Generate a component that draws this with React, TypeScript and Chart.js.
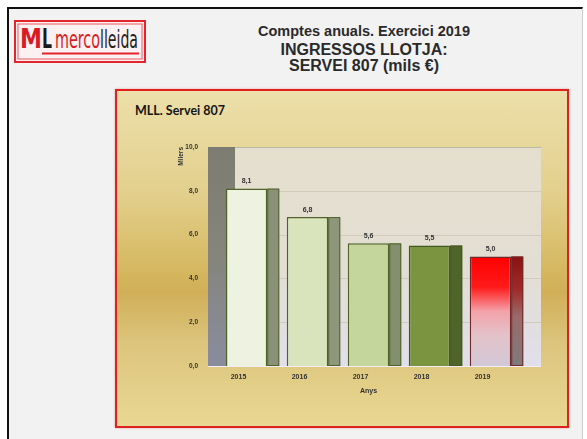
import React, { useEffect, useRef } from 'react';
import { Chart, registerables } from 'chart.js';

Chart.register(...registerables);

// ---- data ----
const years = ['2015', '2016', '2017', '2018', '2019'];
const incomes = [8.1, 6.8, 5.6, 5.5, 5.0];
const yTickValues = [0, 2, 4, 6, 8, 10];
const titleLines = ['Comptes anuals. Exercici 2019', 'INGRESSOS LLOTJA:', 'SERVEI 807 (mils €)'];
const panelTitle = 'MLL. Servei 807';
const yAxisTitle = 'Milers';
const xAxisTitle = 'Anys';

// ---- styles ----
const frontColors = ['#eef2e0', '#d9e4bd', '#c4d69c', '#7a9440', '#ff0000'];
const sideColors = ['#8b9179', '#8e977c', '#829070', '#4e6429', '#8b1111'];
const edgeColors = ['#4f6228', '#4f6228', '#4f6228', '#435722', '#6e2a2a'];
const highlightIndex = 4;
const FONT = '"Liberation Sans", Arial, sans-serif';

const fmt = (v: number) => v.toFixed(1).replace('.', ',');

const plot3d = {
  id: 'plot3d',
  beforeDraw(chart: any) {
    const { ctx, chartArea: a, scales } = chart;
    const y = scales.y;
    const top = y.getPixelForValue(10);
    const bottom = y.getPixelForValue(0);
    const left = a.left - 8;
    const right = a.right + 20;
    ctx.save();
    const g = ctx.createLinearGradient(0, top, 0, bottom);
    g.addColorStop(0, '#e4dfcd');
    g.addColorStop(0.55, '#e3ded3');
    g.addColorStop(1, '#e1dfea');
    ctx.fillStyle = g;
    ctx.fillRect(left, top, right - left, bottom - top);
    ctx.lineWidth = 1;
    for (const v of yTickValues) {
      if (v === 0) continue;
      const py = Math.round(y.getPixelForValue(v)) + 0.5;
      ctx.strokeStyle = v === 10 ? '#bdb8a6' : '#d0cbbb';
      ctx.beginPath();
      ctx.moveTo(left, py);
      ctx.lineTo(right, py);
      ctx.stroke();
    }
    ctx.strokeStyle = '#f1eff5';
    const pb = Math.round(bottom) + 0.5;
    ctx.beginPath();
    ctx.moveTo(left, pb);
    ctx.lineTo(right, pb);
    ctx.stroke();
    ctx.restore();
  },
  beforeDatasetsDraw(chart: any) {
    const { ctx, chartArea: a, scales } = chart;
    const y = scales.y;
    const top = y.getPixelForValue(10);
    const bottom = y.getPixelForValue(0);
    const left = a.left - 8;
    ctx.save();
    const g = ctx.createLinearGradient(0, top, 0, bottom);
    g.addColorStop(0, '#7c7c72');
    g.addColorStop(0.5, '#85857c');
    g.addColorStop(1, '#8a8c9e');
    ctx.fillStyle = g;
    ctx.fillRect(left, top, 27, bottom - top);
    ctx.restore();
  },
  afterDatasetsDraw(chart: any) {
    const { ctx } = chart;
    const meta = chart.getDatasetMeta(0);
    ctx.save();
    meta.data.forEach((bar: any, i: number) => {
      const { x, y, base, width } = bar.getProps(['x', 'y', 'base', 'width'], true);
      const sx = x + width / 2;
      const sw = 12;
      if (i === highlightIndex) {
        const g = ctx.createLinearGradient(0, y, 0, base);
        g.addColorStop(0, '#8b1111');
        g.addColorStop(0.3, '#a02a2a');
        g.addColorStop(0.55, '#9a6a6a');
        g.addColorStop(1, '#7d7a7c');
        ctx.fillStyle = g;
      } else {
        ctx.fillStyle = sideColors[i];
      }
      ctx.fillRect(sx, y, sw, base - y);
      ctx.strokeStyle = edgeColors[i];
      ctx.lineWidth = 1;
      ctx.strokeRect(sx + 0.5, y + 0.5, sw - 1, base - y - 1);
      // value label
      ctx.fillStyle = '#333';
      ctx.font = `bold 7px ${FONT}`;
      ctx.textAlign = 'center';
      ctx.textBaseline = 'bottom';
      ctx.fillText(fmt(incomes[i]), x, y - 4);
    });
    ctx.restore();
  },
};

export default function App() {
  const ref = useRef<HTMLCanvasElement>(null);

  useEffect(() => {
    const canvas = ref.current;
    if (!canvas) return;
    const chart = new Chart(canvas, {
      type: 'bar',
      data: {
        labels: years,
        datasets: [
          {
            data: incomes,
            backgroundColor: (c: any) => {
              const i = c.dataIndex;
              if (i !== highlightIndex) return frontColors[i];
              const ch = c.chart;
              if (!ch.chartArea || !ch.scales.y) return frontColors[i];
              const top = ch.scales.y.getPixelForValue(incomes[i]);
              const bot = ch.scales.y.getPixelForValue(0);
              const g = ch.ctx.createLinearGradient(0, top, 0, bot);
              g.addColorStop(0, '#ff0000');
              g.addColorStop(0.28, '#ff1a1a');
              g.addColorStop(0.5, '#f4a2aa');
              g.addColorStop(0.72, '#e3c2c9');
              g.addColorStop(1, '#d3c9d8');
              return g;
            },
            borderColor: edgeColors,
            borderWidth: 1.5,
            barPercentage: 0.68,
            categoryPercentage: 1,
          },
        ],
      },
      options: {
        animation: false,
        responsive: false,
        maintainAspectRatio: false,
        layout: { padding: { top: 56, right: 46, bottom: 20, left: 0 } },
        plugins: {
          legend: { display: false },
          tooltip: { enabled: false },
        },
        scales: {
          x: {
            grid: { display: false, drawTicks: false },
            border: { display: false },
            ticks: {
              color: '#333',
              font: { family: FONT, size: 7, weight: 'bold' },
              padding: 7,
              labelOffset: -8,
            },
            title: {
              display: true,
              text: xAxisTitle,
              color: '#333',
              font: { family: FONT, size: 7, weight: 'bold' },
              padding: { top: 0, bottom: 11 },
            },
            afterFit: (s: any) => {
              s.height = 40;
              s.paddingLeft = 0;
              s.paddingRight = 0;
            },
          },
          y: {
            min: 0,
            max: 10,
            grid: { display: false, drawTicks: false },
            border: { display: false },
            ticks: {
              stepSize: 2,
              color: '#333',
              font: { family: FONT, size: 6.5, weight: 'bold' },
              padding: 18,
              callback: (v: any) => fmt(Number(v)),
            },
            title: {
              display: true,
              text: yAxisTitle,
              align: 'end',
              color: '#333',
              font: { family: FONT, size: 6.5, weight: 'bold' },
              padding: { top: 60, bottom: 0 },
            },
            afterFit: (s: any) => {
              s.width = 99;
              s.paddingTop = 0;
              s.paddingBottom = 0;
            },
          },
        },
      } as any,
      plugins: [plot3d],
    });
    return () => chart.destroy();
  }, []);

  return (
    <div
      style={{
        position: 'absolute',
        left: 0,
        top: 0,
        width: 587,
        height: 439,
        background: '#ffffff',
        overflow: 'hidden',
        fontFamily: FONT,
      }}
    >
      {/* outer frame */}
      <div
        style={{
          position: 'absolute',
          left: 7,
          top: 7,
          width: 576,
          height: 440,
          boxSizing: 'border-box',
          borderTop: '2px solid #111',
          borderLeft: '2px solid #111',
          borderRight: '1px solid #cfcfcf',
          background: '#f2f2f2',
        }}
      />
      {/* logo */}
      <svg
        width={134}
        height={46}
        style={{ position: 'absolute', left: 13, top: 19 }}
      >
        <rect x={2} y={2} width={130} height={41} fill="#fbf1f2" stroke="#e3262e" strokeWidth={2} />
        <rect x={5} y={5} width={124} height={35} fill="none" stroke="#ea5a60" strokeWidth={1} />
        <text
          x={7}
          y={29}
          fontFamily='"Liberation Sans Narrow", "DejaVu Sans Condensed", Arial, sans-serif'
          fontSize={27}
          fontWeight="bold"
          fill="#d91c24"
          textLength={22}
          lengthAdjust="spacingAndGlyphs"
        >
          M
        </text>
        <text
          x={29}
          y={29}
          fontFamily='"Liberation Sans Narrow", "DejaVu Sans Condensed", Arial, sans-serif'
          fontSize={27}
          fontWeight="bold"
          fill="#1a1a1a"
          textLength={10}
          lengthAdjust="spacingAndGlyphs"
        >
          L
        </text>
        <text
          x={42}
          y={29}
          fontFamily='"Liberation Sans Narrow", "DejaVu Sans Condensed", Arial, sans-serif'
          fontSize={24}
          fill="#d91c24"
          textLength={45}
          lengthAdjust="spacingAndGlyphs"
        >
          merco
        </text>
        <text
          x={87}
          y={29}
          fontFamily='"Liberation Sans Narrow", "DejaVu Sans Condensed", Arial, sans-serif'
          fontSize={24}
          fill="#222"
          textLength={38}
          lengthAdjust="spacingAndGlyphs"
        >
          lleida
        </text>
        <rect x={29} y={33.5} width={97} height={2} fill="#e3262e" />
      </svg>
      {/* title */}
      <div
        style={{
          position: 'absolute',
          left: 214,
          width: 300,
          top: 24,
          textAlign: 'center',
          fontSize: 14.5,
          lineHeight: '14.5px',
          fontWeight: 'bold',
          color: '#2a2a2a',
          whiteSpace: 'nowrap',
        }}
      >
        {titleLines[0]}
      </div>
      <div
        style={{
          position: 'absolute',
          left: 214,
          width: 300,
          top: 42,
          textAlign: 'center',
          fontSize: 16,
          lineHeight: '16px',
          fontWeight: 'bold',
          color: '#2a2a2a',
          whiteSpace: 'nowrap',
        }}
      >
        {titleLines[1]}
      </div>
      <div
        style={{
          position: 'absolute',
          left: 214,
          width: 300,
          top: 58,
          textAlign: 'center',
          fontSize: 16,
          lineHeight: '16px',
          fontWeight: 'bold',
          color: '#2a2a2a',
          whiteSpace: 'nowrap',
        }}
      >
        {titleLines[2]}
      </div>
      {/* chart panel */}
      <div
        style={{
          position: 'absolute',
          left: 115,
          top: 89,
          width: 454,
          height: 339,
          boxSizing: 'border-box',
          border: '2px solid #e0221f',
          boxShadow: '0 0 2px rgba(230,80,80,0.5)',
          background:
            'linear-gradient(to bottom, #ecdfa9 0%, #e3d08e 30%, #d6b962 52%, #d0af58 60%, #dcc47c 75%, #e9d892 100%)',
        }}
      />
      <div
        style={{
          position: 'absolute',
          left: 135,
          top: 105,
          fontFamily: 'Lato, "Open Sans", sans-serif',
          fontSize: 12.5,
          lineHeight: '12.5px',
          fontWeight: 'bold',
          color: '#151515',
          whiteSpace: 'nowrap',
        }}
      >
        {panelTitle}
      </div>
      <canvas
        ref={ref}
        width={450}
        height={335}
        style={{ position: 'absolute', left: 117, top: 91, width: 450, height: 335, display: 'block' }}
      />
    </div>
  );
}
